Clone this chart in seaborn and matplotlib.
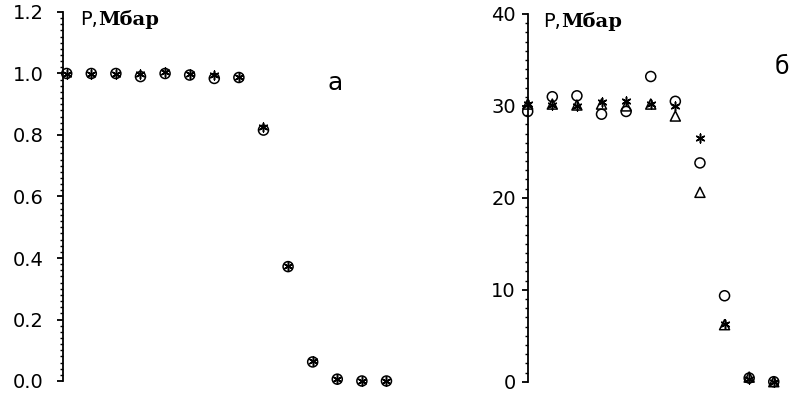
import numpy as np
import pandas as pd
import seaborn as sns
import matplotlib.pyplot as plt
from matplotlib.ticker import MultipleLocator

# panel a: normalised pressure, two series (circles, asterisks)
a_idx = list(range(14))
a_circle = [1.0, 1.0, 1.0, 0.99, 1.0, 0.995, 0.984, 0.987, 0.816, 0.372, 0.062, 0.006, 0.0, 0.0]
a_star = [1.0, 1.0, 1.0, 0.998, 1.005, 0.997, 0.995, 0.99, 0.826, 0.374, 0.064, 0.006, 0.0, 0.0]

# panel b: pressure in Mbar, three series (circles, triangles, asterisks)
b_idx = list(range(11))
b_circle = [29.4, 31.0, 31.1, 29.1, 29.4, 33.2, 30.5, 23.8, 9.35, 0.4, 0.0]
b_tri = [30.2, 30.2, 30.1, 30.2, 30.0, 30.2, 28.9, 20.6, 6.2, 0.5, 0.0]
b_star = [30.2, 30.1, 30.0, 30.4, 30.5, 30.2, 30.0, 26.5, 6.3, 0.3, 0.0]

sns.set_style("ticks", {'axes.edgecolor': 'k', 'text.color': 'k',
                        'xtick.color': 'k', 'ytick.color': 'k'})
plt.rcParams['font.family'] = ['DejaVu Sans']

asterisk = (6, 2, 0)

fig = plt.figure(figsize=(7.91, 3.98), dpi=100)
ax1 = fig.add_axes([63 / 791, 1 - 381 / 398, 337 / 791, 369 / 398])
ax2 = fig.add_axes([527.7 / 791, 1 - 381.7 / 398, 263.3 / 791, 367.7 / 398])

df_a = pd.DataFrame({'x': a_idx, 'circle': a_circle, 'star': a_star})
df_b = pd.DataFrame({'x': b_idx, 'circle': b_circle, 'tri': b_tri, 'star': b_star})

sns.scatterplot(data=df_a, x='x', y='circle', ax=ax1, marker='o', s=52,
                facecolor='none', edgecolor='k', linewidth=1.1, clip_on=False)
sns.scatterplot(data=df_a, x='x', y='star', ax=ax1, marker=asterisk, s=40,
                color='k', linewidth=1.1, clip_on=False)

sns.scatterplot(data=df_b, x='x', y='circle', ax=ax2, marker='o', s=52,
                facecolor='none', edgecolor='k', linewidth=1.1, clip_on=False)
sns.scatterplot(data=df_b, x='x', y='tri', ax=ax2, marker='^', s=52,
                facecolor='none', edgecolor='k', linewidth=1.1, clip_on=False)
sns.scatterplot(data=df_b, x='x', y='star', ax=ax2, marker=asterisk, s=40,
                color='k', linewidth=1.1, clip_on=False)

ax1.set_xlim(-0.15, 13.55)
ax1.set_ylim(0, 1.2)
ax1.yaxis.set_major_locator(MultipleLocator(0.2))
ax1.yaxis.set_minor_locator(MultipleLocator(0.02))
ax1.yaxis.set_major_formatter(plt.FormatStrFormatter('%.1f'))

ax2.set_xlim(0, 10.7)
ax2.set_ylim(0, 40)
ax2.yaxis.set_major_locator(MultipleLocator(10))
ax2.yaxis.set_minor_locator(MultipleLocator(1))

for ax, pad in [(ax1, 10), (ax2, 4.5)]:
    sns.despine(ax=ax, bottom=True)
    ax.xaxis.set_visible(False)
    ax.set_ylabel('')
    ax.spines['left'].set_linewidth(1.3)
    ax.tick_params(axis='y', which='major', length=4, width=1.3, labelsize=14,
                   pad=pad, colors='k')
    ax.tick_params(axis='y', which='minor', length=2.3, width=1.0, colors='k')
    ax.patch.set_alpha(0)

ax1.text(80 / 791, 1 - 25 / 398, 'P,', transform=fig.transFigure, fontsize=14,
         va='baseline', color='k')
ax1.text(98 / 791, 1 - 25 / 398, 'Мбар', transform=fig.transFigure, fontsize=14,
         family='DejaVu Serif', weight='bold', va='baseline', color='k')
ax2.text(543 / 791, 1 - 27 / 398, 'P,', transform=fig.transFigure, fontsize=14,
         va='baseline', color='k')
ax2.text(561 / 791, 1 - 27 / 398, 'Мбар', transform=fig.transFigure, fontsize=14,
         family='DejaVu Serif', weight='bold', va='baseline', color='k')

ax1.text(335 / 791, 1 - 83 / 398, 'а', transform=fig.transFigure, fontsize=18,
         ha='center', va='center', color='k')
ax2.text(782 / 791, 1 - 67 / 398, 'б', transform=fig.transFigure, fontsize=17,
         ha='center', va='center', color='k')

fig.savefig('out.png', dpi=100)
